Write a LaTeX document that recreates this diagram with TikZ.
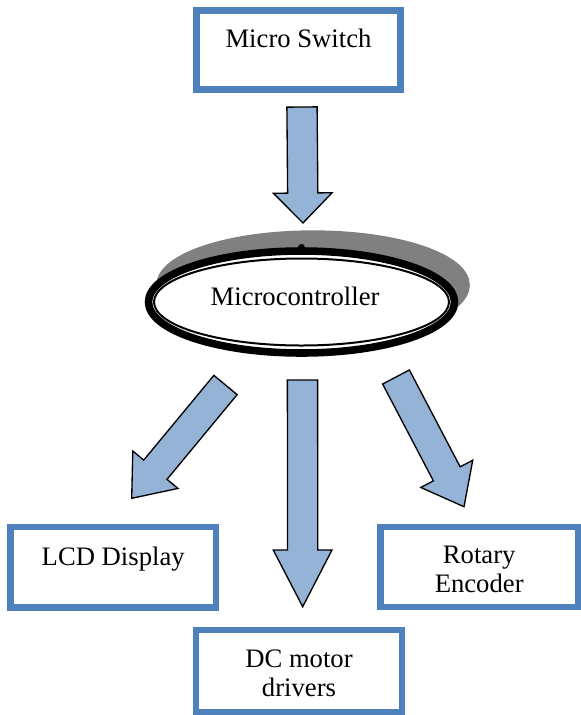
\documentclass[tikz,border=0pt]{standalone}
\usepackage{fontspec}
\setmainfont{Liberation Serif}
\usetikzlibrary{calc,shapes.geometric,shadows}
\definecolor{boxblue}{HTML}{4F81BD}
\definecolor{arrowblue}{HTML}{95B3D7}
\definecolor{shadowgray}{HTML}{808080}
% block arrow: tail, tip, head length
\newcommand{\blockarrow}[3]{%
  \coordinate (hb) at ($(#2)!#3!(#1)$);
  \filldraw[barrow] ($(#1)!6.8pt!90:(#2)$) -- ($(hb)!6.8pt!90:(#2)$)
    -- ($(hb)!13.2pt!90:(#2)$) -- (#2) -- ($(hb)!13.2pt!-90:(#2)$)
    -- ($(hb)!6.8pt!-90:(#2)$) -- ($(#1)!6.8pt!-90:(#2)$) -- cycle;
}
\begin{document}
\begin{tikzpicture}
          [x = 0.45pt, y = -0.45pt,
           every node/.style = {font = \fontsize{12pt}{13.2pt}\selectfont},
           block/.style = {draw = boxblue, line width = 2.9pt, fill = white, align = center},
           oneline/.style = {text height = 8pt, text depth = 10pt},
           twoline/.style = {text height = 23.5pt},
           barrow/.style = {fill = arrowblue, draw = black, line width = 0.6pt, line join = miter}]
          \useasboundingbox (0,0) rectangle (581,715);
          \node[block, oneline, minimum width = 91.8pt, minimum height = 35.6pt] (switch) at (298.5,50) {Micro Switch};
          \node[ellipse, draw, line width = 3.4pt, fill = white, minimum width = 137.7pt, minimum height = 45.9pt,
                copy shadow = {shadow xshift = 5.2pt, shadow yshift = 7.6pt, fill = shadowgray, draw = shadowgray},
                label = {[xshift = -2.9pt, yshift = 2.5pt]center:Microcontroller}]
                (mcu) at (301.5,302) {};
          \draw[line width = 0.9pt] (mcu.center) ellipse [x radius = 147.5, y radius = 43.5];
          \fill (mcu.north) circle (1.5pt);
          \node[block, oneline, minimum width = 92.6pt, minimum height = 36.3pt] (lcd) at (113.2,567.3) {LCD Display};
          \node[block, twoline, minimum width = 89pt, minimum height = 36pt] (enc) at (479.2,567) {Rotary\\Encoder};
          \node[block, twoline, minimum width = 92.6pt, minimum height = 37pt] (dc) at (299,671) {DC motor\\drivers};
          % arrow ends
          \coordinate (switch-out) at (302,107);
          \coordinate (mcu-in) at (303,223);
          \coordinate (lcd-out) at (225.5,385);
          \coordinate (lcd-in) at (131.7,498.3);
          \coordinate (dc-out) at (302.5,380);
          \coordinate (dc-in) at (302.7,606.7);
          \coordinate (enc-out) at (396,377);
          \coordinate (enc-in) at (464,506.7);
          \blockarrow{switch-out}{mcu-in}{13.5pt}
          \blockarrow{lcd-out}{lcd-in}{16.7pt}
          \blockarrow{dc-out}{dc-in}{25.5pt}
          \blockarrow{enc-out}{enc-in}{16.7pt}
        \end{tikzpicture}
\end{document}
